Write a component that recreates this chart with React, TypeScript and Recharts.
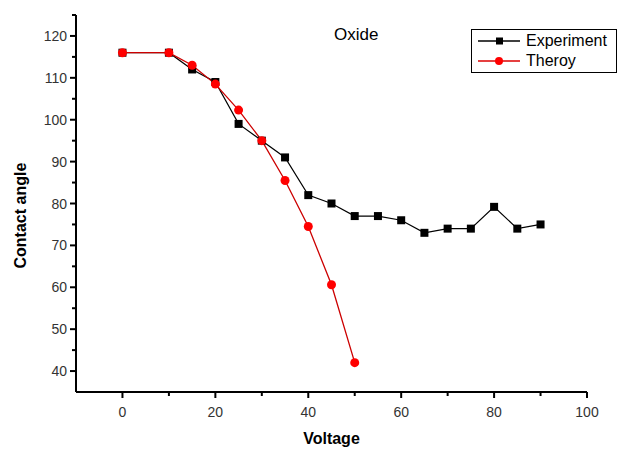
import { LineChart, Line, XAxis, YAxis } from "recharts";

const expVoltage = [0, 10, 15, 20, 25, 30, 35, 40, 45, 50, 55, 60, 65, 70, 75, 80, 85, 90];
const expAngle = [116, 116, 112, 109, 99, 95, 91, 82, 80, 77, 77, 76, 73, 74, 74, 79.2, 74, 75];
const theoryVoltage = [0, 10, 15, 20, 25, 30, 35, 40, 45, 50];
const theoryAngle = [116, 116, 113, 108.5, 102.3, 95, 85.5, 74.5, 60.6, 42];

const xTicks = [-10, 0, 10, 20, 30, 40, 50, 60, 70, 80, 90, 100];
const yTicks = [35, 40, 45, 50, 55, 60, 65, 70, 75, 80, 85, 90, 95, 100, 105, 110, 115, 120, 125];

const expData = expVoltage.map((x, i) => ({ x, y: expAngle[i] }));
const theoryData = theoryVoltage.map((x, i) => ({ x, y: theoryAngle[i] }));

const FONT = "'Liberation Sans', Arial, sans-serif";

const XTick = ({ x, y, payload }: any) => {
  const v = payload.value;
  const major = v % 20 === 0 && v >= 0;
  return (
    <g>
      {v !== -10 && <line x1={x} x2={x} y1={y} y2={y + (major ? 6 : 4)} stroke="#000" strokeWidth={2} />}
      {major && (
        <text x={x} y={y + 25} textAnchor="middle" fontSize={14} fill="#333" fontFamily={FONT}>
          {v}
        </text>
      )}
    </g>
  );
};

const YTick = ({ x, y, payload }: any) => {
  const v = payload.value;
  const major = v % 10 === 0;
  return (
    <g>
      {v !== 35 && <line x1={x} x2={x - (major ? 6 : 4)} y1={y} y2={y} stroke="#000" strokeWidth={2} />}
      {major && (
        <text x={x - 9} y={y + 5} textAnchor="end" fontSize={14} fill="#333" fontFamily={FONT}>
          {v}
        </text>
      )}
    </g>
  );
};

const Square = ({ cx, cy }: any) => <rect x={cx - 4} y={cy - 4} width={8} height={8} fill="#000" />;
const Dot = ({ cx, cy }: any) => <circle cx={cx} cy={cy} r={4.5} fill="#f00" />;

const legendRows = [
  { name: "Experiment", color: "#000", sq: true },
  { name: "Theroy", color: "#d00", sq: false },
];

const LegendBox = () => (
  <div
    style={{
      position: "absolute",
      left: 471,
      top: 29,
      border: "1.5px solid #000",
      width: 146,
      height: 44,
      fontFamily: FONT,
      fontSize: 16,
      background: "#fff",
      boxSizing: "border-box",
      padding: "1px 0 0 4px",
      lineHeight: "20px",
    }}
  >
    {legendRows.map((r) => (
      <div key={r.name} style={{ display: "flex", alignItems: "center" }}>
        <svg width={48} height={20}>
          <line x1={2} x2={44} y1={10} y2={10} stroke={r.color} strokeWidth={1.3} />
          {r.sq ? (
            <rect x={20} y={6.5} width={7} height={7} fill="#000" />
          ) : (
            <circle cx={23} cy={10} r={4} fill="#f00" />
          )}
        </svg>
        <span style={{ marginLeft: 2, color: "#000" }}>{r.name}</span>
      </div>
    ))}
  </div>
);

export default function App() {
  return (
    <div style={{ position: "absolute", left: 0, top: 0, width: 618, height: 452, background: "#fff" }}>
      <LineChart width={618} height={452} margin={{ top: 15, right: 31, bottom: 0, left: 0 }}>
        <XAxis
          type="number"
          dataKey="x"
          domain={[-10, 100]}
          ticks={xTicks}
          interval={0}
          allowDataOverflow
          height={60}
          tickSize={0}
          tickMargin={0}
          tick={<XTick />}
          axisLine={{ stroke: "#000", strokeWidth: 2 }}
          label={{ value: "Voltage", position: "insideBottom", offset: 8, fontSize: 16, fontWeight: "bold", fill: "#000", fontFamily: FONT }}
        />
        <YAxis
          type="number"
          dataKey="y"
          domain={[35, 125]}
          ticks={yTicks}
          interval={0}
          allowDataOverflow
          width={76}
          tickSize={0}
          tickMargin={0}
          tick={<YTick />}
          axisLine={{ stroke: "#000", strokeWidth: 2 }}
          label={{ value: "Contact angle", angle: -90, position: "insideLeft", offset: 20, dy: 65, fontSize: 16, fontWeight: "bold", fill: "#000", fontFamily: FONT }}
        />
        <Line
          data={expData}
          dataKey="y"
          name="Experiment"
          type="linear"
          stroke="#000"
          strokeWidth={1.2}
          dot={<Square />}
          activeDot={false}
          isAnimationActive={false}
        />
        <Line
          data={theoryData}
          dataKey="y"
          name="Theroy"
          type="linear"
          stroke="#c00"
          strokeWidth={1.3}
          dot={<Dot />}
          activeDot={false}
          isAnimationActive={false}
        />
      </LineChart>
      <LegendBox />
      <div style={{ position: "absolute", left: 334, top: 25, fontFamily: FONT, fontSize: 17, color: "#000" }}>Oxide</div>
    </div>
  );
}
